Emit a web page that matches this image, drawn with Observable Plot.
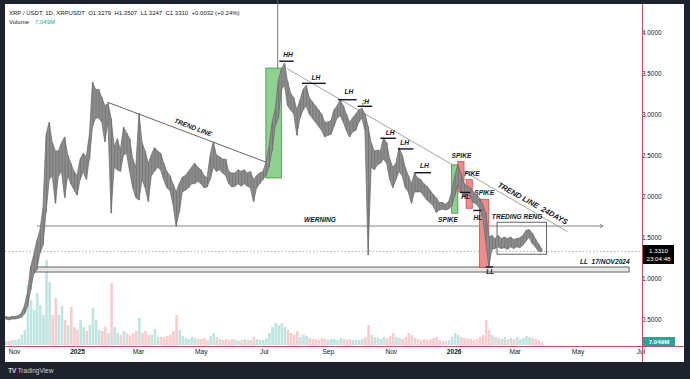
<!DOCTYPE html>
<html>
<head>
<meta charset="utf-8">
<script src="https://cdn.jsdelivr.net/npm/d3@7"></script>
<script src="https://cdn.jsdelivr.net/npm/@observablehq/plot@0.6"></script>
<style>
  html, body { margin:0; padding:0; width:690px; height:379px; overflow:hidden; background:#1e222d; font-family:"Liberation Sans", Arial, sans-serif; }
  #panel { position:absolute; left:5px; top:4px; width:679px; height:358px; background:#ffffff; }
  .layer { position:absolute; left:0; top:0; }
  .sep-v { position:absolute; left:642px; top:4px; width:1px; height:358px; background:#b0585c; }
  .sep-h { position:absolute; left:5px; top:346px; width:679px; height:1px; background:#b0585c; }
  .legend { position:absolute; font-size:6px; color:#131722; line-height:8px; white-space:pre; }
  #legendMain { left:9px; top:9px; }
  #legendVolLabel { left:9px; top:18px; }
  #legendVolValue { left:35px; top:18px; color:#26a69a; }
  #lastPrice { position:absolute; left:643px; top:245px; width:31px; height:19px; background:#000; color:#fff; font-size:6.2px; line-height:8px; text-align:center; padding-top:1.5px; box-sizing:border-box; }
  #lastVol { position:absolute; left:643px; top:337px; width:32px; height:9px; background:#26a69a; color:#fff; font-size:6.2px; font-weight:bold; line-height:9px; text-align:center; }
  #brand { position:absolute; left:8px; top:367px; color:#d1d4dc; font-size:6.5px; white-space:pre; }
  #brand b { font-size:7px; letter-spacing:-0.5px; }
</style>
</head>
<body>
<div id="panel"></div>
<div id="volume" class="layer"></div>
<div id="price" class="layer"></div>
<div class="sep-v"></div>
<div class="sep-h"></div>
<div id="legendMain" class="legend">XRP / USDT, 1D, XRPUSDT  O1.3279  H1.3507  L1.3247  C1.3310  +0.0032 (+0.24%)</div>
<div id="legendVolLabel" class="legend">Volume</div>
<div id="legendVolValue" class="legend">7.049M</div>
<div id="lastPrice">1.3310<br>23:04:48</div>
<div id="lastVol">7.049M</div>
<div id="brand"><b>TV</b> TradingView</div>
<script>
// Daily XRP/USDT bars, one every 3 days from 24 Oct 2024
const firstDay = "2024-10-24";
const stepDays = 3;

const lows = [
  0.50,0.49,0.50,0.50,0.51,0.52,0.56,0.65,0.85,1.05,
  1.10,1.30,1.40,1.80,2.20,2.25,1.91,2.25,2.30,1.98,
  2.25,2.15,2.08,2.01,2.20,2.30,2.20,2.45,2.85,2.95,
  2.95,2.90,2.66,2.90,1.79,2.35,2.32,2.30,2.50,2.52,
  2.30,2.10,1.98,1.95,2.20,2.10,1.93,2.25,2.30,2.35,
  2.32,2.20,2.10,2.07,1.90,1.63,1.80,2.05,2.07,2.10,
  2.15,2.15,2.18,2.15,2.10,2.11,2.20,2.35,2.30,2.32,
  2.28,2.25,2.15,2.11,2.12,2.15,2.12,2.15,2.12,2.10,
  1.93,2.10,2.15,2.20,2.25,2.35,2.55,2.85,2.95,3.30,
  3.35,3.10,3.05,3.00,2.74,2.95,3.05,3.10,3.00,2.95,
  2.90,2.85,2.80,2.72,2.74,2.75,2.85,2.95,2.98,2.90,
  2.80,2.72,2.78,2.80,2.90,2.95,2.80,1.28,2.35,2.32,
  2.38,2.40,2.45,2.40,2.20,2.10,2.20,2.30,2.25,2.10,
  2.05,1.91,2.05,2.05,2.05,2.00,1.95,1.92,1.88,1.80,
  1.83,1.84,1.83,1.84,1.88,2.00,2.15,2.05,2.00,2.02,
  1.98,1.92,1.90,1.85,1.75,1.45,1.13,1.35,1.36,1.38,
  1.36,1.37,1.35,1.38,1.36,1.38,1.37,1.40,1.45,1.50,
  1.42,1.38,1.33,1.32
];

const highs = [
  0.53,0.52,0.53,0.53,0.54,0.57,0.66,0.82,1.13,1.28,
  1.45,1.58,1.85,2.75,2.90,2.65,2.55,2.55,2.65,2.72,
  2.50,2.40,2.30,2.25,2.45,2.52,2.48,2.75,3.39,3.30,
  3.30,3.20,3.10,3.13,2.95,2.60,2.70,2.56,2.84,2.77,
  2.70,2.45,2.35,3.01,2.65,2.55,2.40,2.50,2.59,2.55,
  2.52,2.40,2.30,2.25,2.15,2.05,2.15,2.23,2.25,2.30,
  2.35,2.40,2.35,2.32,2.25,2.22,2.50,2.66,2.50,2.48,
  2.45,2.45,2.30,2.28,2.28,2.32,2.30,2.32,2.28,2.30,
  2.20,2.25,2.28,2.30,2.40,2.60,2.90,3.05,3.41,3.55,
  3.62,3.40,3.25,3.20,3.05,3.17,3.30,3.35,3.20,3.15,
  3.10,3.05,3.00,2.90,2.90,2.92,3.05,3.10,3.17,3.10,
  3.00,2.90,2.95,3.00,3.05,3.07,3.00,2.85,2.65,2.55,
  2.56,2.55,2.71,2.65,2.45,2.35,2.40,2.59,2.50,2.35,
  2.25,2.15,2.28,2.22,2.20,2.15,2.12,2.07,2.02,1.98,
  1.92,1.92,1.90,1.93,2.05,2.25,2.38,2.28,2.15,2.12,
  2.10,2.05,2.02,1.97,1.90,1.80,1.50,1.52,1.48,1.52,
  1.48,1.50,1.48,1.50,1.47,1.48,1.49,1.52,1.58,1.59,
  1.55,1.48,1.42,1.36
];

// Volume in millions of XRP
const volumes = [
  80,80,100,100,120,200,300,1200,900,700,
  1040,800,600,1700,1260,600,940,600,780,500,
  400,760,360,300,500,360,280,400,740,500,
  300,280,360,240,1240,360,240,200,280,240,
  200,240,280,540,240,280,200,200,320,160,
  160,160,180,200,280,600,300,180,140,120,
  160,140,120,120,140,100,180,240,160,120,
  100,120,100,120,100,80,100,120,100,100,
  160,120,100,100,140,240,360,440,400,440,
  360,300,240,200,280,160,200,180,140,120,
  120,100,140,120,100,120,120,100,140,120,
  100,120,100,100,100,120,160,400,200,160,
  140,120,160,140,180,240,160,140,120,160,
  240,200,140,120,100,120,100,120,140,160,
  100,80,80,100,160,240,200,160,140,120,
  120,100,120,160,200,500,300,200,160,140,
  120,160,120,140,120,160,120,140,180,160,
  140,120,100,60
];

const lastClose = 1.331;
const priceTicks = [0.5, 1, 1.5, 2, 2.5, 3, 3.5, 4];
const timeTicks = [
  {date:"2024-11-01", label:"Nov"}, {date:"2025-01-01", label:"2025", year:true},
  {date:"2025-03-01", label:"Mar"}, {date:"2025-05-01", label:"May"},
  {date:"2025-07-01", label:"Jul"}, {date:"2025-09-01", label:"Sep"},
  {date:"2025-11-01", label:"Nov"}, {date:"2026-01-01", label:"2026", year:true},
  {date:"2026-03-01", label:"Mar"}, {date:"2026-05-01", label:"May"},
  {date:"2026-07-01", label:"Jul"}
];

// Drawings on the chart
const trendLines = [
  {d1:"2025-01-30", p1:3.15, d2:"2025-07-13", p2:2.37},
  {d1:"2025-07-23", p1:3.56, d2:"2026-04-21", p2:1.57}
];
const warningLine = [{d1:"2024-11-23", d2:"2026-05-25", p:1.64}];
const lowBand = [{d1:"2024-11-17", d2:"2026-06-20", lo:1.073, hi:1.134}];
const athMarker = [{d:"2025-07-14", p1:4.40, p2:3.09}];
const zones = [
  {d1:"2025-07-03", d2:"2025-07-18", lo:2.22, hi:3.56, up:true},
  {d1:"2025-12-30", d2:"2026-01-05", lo:1.79, hi:2.38, up:true},
  {d1:"2026-01-05", d2:"2026-01-11", lo:2.05, hi:2.42, up:false},
  {d1:"2026-01-13", d2:"2026-01-19", lo:1.85, hi:2.20, up:false},
  {d1:"2026-01-26", d2:"2026-02-04", lo:1.13, hi:1.96, up:false}
];
const rangeBox = [{d1:"2026-02-12", d2:"2026-04-01", lo:1.29, hi:1.68}];
const swings = [
  {label:"HH", d:"2025-07-24", p:3.73, from:"2025-07-16", to:"2025-07-30", level:3.65},
  {label:"LH", d:"2025-08-20", p:3.45, from:"2025-08-07", to:"2025-08-30", level:3.38},
  {label:"LH", d:"2025-09-21", p:3.27, from:"2025-09-11", to:"2025-09-29", level:3.18},
  {label:";H", d:"2025-10-07", p:3.16, from:"2025-09-30", to:"2025-10-14", level:3.10},
  {label:"LH", d:"2025-10-31", p:2.78, from:"2025-10-22", to:"2025-11-06", level:2.71},
  {label:"LH", d:"2025-11-14", p:2.65, from:"2025-11-08", to:"2025-11-23", level:2.58},
  {label:"LH", d:"2025-12-03", p:2.37, from:"2025-11-24", to:"2025-12-10", level:2.29},
  {label:"HL", d:"2026-01-12", p:1.99, from:"2026-01-07", to:"2026-01-17", level:2.05},
  {label:"HL", d:"2026-01-24", p:1.74, from:"2026-01-20", to:"2026-01-28", level:1.83},
  {label:"LL", d:"2026-02-05", p:1.085, from:"2026-02-01", to:"2026-02-08", level:1.14}
];
const spikes = [
  {d:"2026-01-08", p:2.50}, {d:"2026-01-16", p:2.28},
  {d:"2026-01-30", p:2.05}, {d:"2025-12-26", p:1.72}
];
const notes = [
  {text:"WERNING", d:"2025-08-24", p:1.72, anchor:"middle"},
  {text:"TREDING RENG", d:"2026-03-03", p:1.756, anchor:"middle"},
  {text:"LL  17/NOV2024", d:"2026-06-20", p:1.207, anchor:"end"}
];
const slantNotes = [
  {text:"TREND LINE", d:"2025-04-23", p:2.84},
  {text:"TREND LINE  24DAYS", d:"2026-03-18", p:1.915}
];

const day0 = new Date(firstDay);
const bars = lows.map((lo, i) => ({
  date: d3.utcDay.offset(day0, stepDays * i),
  low: lo,
  high: highs[i],
  volume: volumes[i],
  up: i === 0 || lo + highs[i] >= lows[i - 1] + highs[i - 1]
}));

const D = s => new Date(s);
const xScale = () => ({type: "utc", domain: [D("2025-01-01"), D("2026-01-01")], range: [77, 453.7], axis: null});
const labelFont = {fontSize: 6.6, fontStyle: "italic", fontWeight: "bold", fill: "#131722", fontFamily: "Liberation Sans, Arial, sans-serif"};

// volume pane
const volumePlot = Plot.plot({
  width: 690, height: 379, margin: 0,
  style: {background: "transparent", overflow: "visible"},
  x: xScale(),
  y: {domain: [0, 1700], range: [345, 260], axis: null},
  color: {type: "identity"},
  marks: [
    Plot.ruleX(bars, {x: "date", y1: 0, y2: "volume", stroke: d => d.up ? "#bfe5e1" : "#f9cdcd", strokeWidth: 2.6})
  ]
});
document.getElementById("volume").append(volumePlot);

// price pane
const pricePlot = Plot.plot({
  width: 690, height: 379,
  marginTop: 4, marginLeft: 5, marginRight: 48, marginBottom: 33,
  style: {background: "transparent", overflow: "visible", fontFamily: "Liberation Sans, Arial, sans-serif"},
  x: xScale(),
  y: {domain: [0, 4.5], range: [360, -9], axis: null},
  color: {type: "identity"},
  marks: [
    Plot.ruleY([lastClose], {stroke: "#9598a1", strokeWidth: 0.8, strokeDasharray: "1.5,2"}),
    Plot.rect(lowBand, {x1: d => D(d.d1), x2: d => D(d.d2), y1: "lo", y2: "hi", fill: "#e6e6e6", stroke: "#555", strokeWidth: 0.9}),
    Plot.arrow(warningLine, {x1: d => D(d.d1), x2: d => D(d.d2), y1: "p", y2: "p", stroke: "#777", strokeWidth: 0.9, headLength: 5}),
    Plot.link(trendLines, {x1: d => D(d.d1), y1: "p1", x2: d => D(d.d2), y2: "p2", stroke: d => d.p1 > 3.3 ? "#9a9a9a" : "#555", strokeWidth: 0.9}),
    Plot.ruleX(athMarker, {x: d => D(d.d), y1: "p1", y2: "p2", stroke: "#666", strokeWidth: 0.9}),
    Plot.text(spikes, {x: d => D(d.d), y: "p", text: () => "SPIKE", ...labelFont}),
    Plot.rect(zones, {x1: d => D(d.d1), x2: d => D(d.d2), y1: "lo", y2: "hi",
      fill: d => d.up ? "#8fd18f" : "#f08b8b", stroke: d => d.up ? "#3f8f3f" : "#d44a4a", strokeWidth: 0.8}),
    Plot.rect(rangeBox, {x1: d => D(d.d1), x2: d => D(d.d2), y1: "lo", y2: "hi", fill: "none", stroke: "#555", strokeWidth: 0.9}),
    // price trace: low-to-high band per bar with thin wicks
    Plot.areaY(bars, {x: "date", y1: "low", y2: "high", fill: "#8e8e8e", stroke: "#666", strokeWidth: 0.7}),
    Plot.ruleX(bars, {x: "date", y1: "low", y2: "high", stroke: "#707070", strokeWidth: 0.8}),
    Plot.ruleY(swings, {y: "level", x1: d => D(d.from), x2: d => D(d.to), stroke: "#131722", strokeWidth: 1.4}),
    Plot.text(swings, {x: d => D(d.d), y: "p", text: "label", ...labelFont}),
    Plot.text(notes, {x: d => D(d.d), y: "p", text: "text", textAnchor: "end", filter: d => d.anchor === "end", ...labelFont}),
    Plot.text(notes, {x: d => D(d.d), y: "p", text: "text", filter: d => d.anchor !== "end", ...labelFont}),
    Plot.text(slantNotes.slice(0, 1), {x: d => D(d.d), y: "p", text: "text", rotate: 20.7, ...labelFont}),
    Plot.text(slantNotes.slice(1), {x: d => D(d.d), y: "p", text: "text", rotate: 29, ...labelFont, fontSize: 7.6}),
    // price scale on the right
    Plot.text(priceTicks, {y: d => d, text: d => d.toFixed(4), frameAnchor: "right", dx: 19, fontSize: 6.4, fill: "#131722"}),
    // time scale at the bottom
    Plot.text(timeTicks.filter(t => !t.year), {x: d => D(d.date), text: "label", frameAnchor: "bottom", dy: 7, fontSize: 6.6, fill: "#131722"}),
    Plot.text(timeTicks.filter(t => t.year), {x: d => D(d.date), text: "label", frameAnchor: "bottom", dy: 7, fontSize: 6.6, fontWeight: "bold", fill: "#131722"})
  ]
});
document.getElementById("price").append(pricePlot);
</script>
</body>
</html>
